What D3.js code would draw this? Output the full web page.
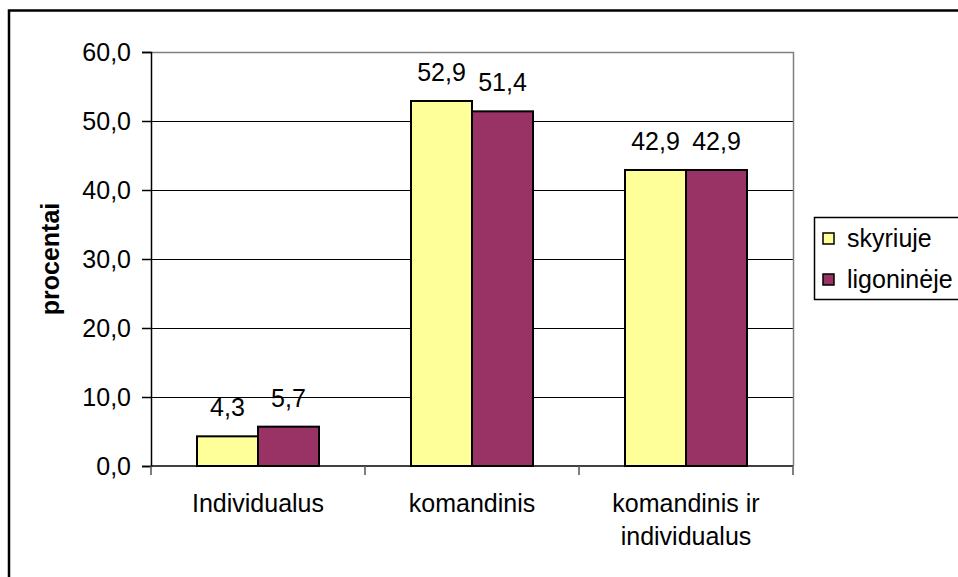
<!DOCTYPE html>
<html>
<head>
<meta charset="utf-8">
<script src="https://cdn.jsdelivr.net/npm/d3@7"></script>
<style>
  html, body { margin: 0; padding: 0; background: #fff; }
  svg { display: block; }
  text { font-family: "Liberation Sans", Arial, sans-serif; fill: #000; }
</style>
</head>
<body>
<svg id="chart" width="958" height="577"></svg>
<script>
// Work organisation: share of respondents (%) in the unit vs. the hospital
const categories = ["Individualus", "komandinis", "komandinis ir individualus"];
const seriesNames = ["skyriuje", "ligoninėje"];
const skyriuje = [4.3, 52.9, 42.9];
const ligonineje = [5.7, 51.4, 42.9];
const seriesColors = ["#FFFF99", "#993366"];
const yTicks = [0, 10, 20, 30, 40, 50, 60];
const yTitle = "procentai";

const seriesValues = [skyriuje, ligonineje];

const svg = d3.select("#chart");
const W = 958, H = 577;
const plot = { left: 151, top: 52, right: 793, bottom: 466 };
const fontSize = 25;

const ltLocale = d3.formatLocale({ decimal: ",", thousands: " ", grouping: [3], currency: ["", " €"] });
const fmt = ltLocale.format(".1f");

// outer chart frame
svg.append("rect")
  .attr("x", 9).attr("y", 10.5)
  .attr("width", W + 20).attr("height", H + 20)
  .attr("fill", "#fff").attr("stroke", "#000").attr("stroke-width", 2.5);

const x0 = d3.scaleBand().domain(categories).range([plot.left, plot.right]).padding(0);
const x1 = d3.scaleBand().domain(seriesNames).range([0, x0.bandwidth()])
  .paddingInner(0).paddingOuter(0.754);
const y = d3.scaleLinear().domain([0, 60]).range([plot.bottom, plot.top]);

// horizontal gridlines
svg.append("g").selectAll("line")
  .data(yTicks.filter(t => t > 0 && t < 60))
  .join("line")
  .attr("x1", plot.left).attr("x2", plot.right)
  .attr("y1", d => Math.round(y(d)) + 0.5).attr("y2", d => Math.round(y(d)) + 0.5)
  .attr("stroke", "#000").attr("stroke-width", 1);

// plot area border (top and right)
svg.append("path")
  .attr("d", `M${plot.left},${plot.top + 0.5}H${plot.right + 0.5}V${plot.bottom}`)
  .attr("fill", "none").attr("stroke", "#808080").attr("stroke-width", 1.5);

// bars
const groups = svg.append("g").selectAll("g")
  .data(categories)
  .join("g")
  .attr("transform", d => `translate(${x0(d)},0)`);

groups.selectAll("rect")
  .data((c, ci) => seriesNames.map((s, si) => ({ s, si, v: seriesValues[si][ci] })))
  .join("rect")
  .attr("x", d => x1(d.s))
  .attr("y", d => y(d.v))
  .attr("width", x1.bandwidth())
  .attr("height", d => y(0) - y(d.v))
  .attr("fill", d => seriesColors[d.si])
  .attr("stroke", "#000").attr("stroke-width", 2);

// value labels
groups.selectAll("text")
  .data((c, ci) => seriesNames.map((s, si) => ({ s, si, v: seriesValues[si][ci] })))
  .join("text")
  .attr("x", d => x1(d.s) + x1.bandwidth() / 2)
  .attr("y", d => y(d.v) - 20)
  .attr("text-anchor", "middle")
  .attr("font-size", fontSize)
  .text(d => fmt(d.v));

// y axis
const yAxis = svg.append("g")
  .attr("transform", `translate(${plot.left},0)`)
  .call(d3.axisLeft(y).tickValues(yTicks).tickFormat(fmt).tickSize(9).tickPadding(11));
yAxis.select(".domain").attr("stroke", "#000").attr("stroke-width", 1.5);
yAxis.selectAll(".tick line").attr("stroke", "#000").attr("stroke-width", 1.5);
yAxis.selectAll(".tick text")
  .attr("font-size", fontSize)
  .attr("font-family", "Liberation Sans, Arial, sans-serif")
  .attr("fill", "#000");

// x axis baseline and category separators
svg.append("line")
  .attr("x1", plot.left).attr("x2", plot.right)
  .attr("y1", plot.bottom).attr("y2", plot.bottom)
  .attr("stroke", "#000").attr("stroke-width", 1.5);
const sepX = categories.map(c => x0(c)).concat([plot.right]);
svg.append("g").selectAll("line")
  .data(sepX)
  .join("line")
  .attr("x1", d => d).attr("x2", d => d)
  .attr("y1", plot.bottom).attr("y2", plot.bottom + 9)
  .attr("stroke", "#555").attr("stroke-width", 1.5);

// category labels, wrapped to the category width
const catLabels = svg.append("g").selectAll("text")
  .data(categories)
  .join("text")
  .attr("x", d => x0(d) + x0.bandwidth() / 2)
  .attr("y", plot.bottom + 46)
  .attr("text-anchor", "middle")
  .attr("font-size", fontSize);

catLabels.each(function (d) {
  const t = d3.select(this);
  const cx = x0(d) + x0.bandwidth() / 2;
  const words = d.split(" ");
  const lines = [];
  let line = [];
  const probe = t.append("tspan");
  words.forEach(w => {
    const trial = line.concat([w]).join(" ");
    probe.text(trial);
    if (line.length && probe.node().getComputedTextLength() > x0.bandwidth() - 20) {
      lines.push(line.join(" "));
      line = [w];
    } else {
      line.push(w);
    }
  });
  lines.push(line.join(" "));
  probe.remove();
  lines.forEach((l, i) => {
    t.append("tspan").attr("x", cx).attr("dy", i === 0 ? 0 : 33).text(l);
  });
});

// y axis title
svg.append("text")
  .attr("transform", `translate(59,${(plot.top + plot.bottom) / 2}) rotate(-90)`)
  .attr("text-anchor", "middle")
  .attr("font-size", fontSize)
  .attr("font-weight", "bold")
  .text(yTitle);

// legend
const legend = svg.append("g");
legend.append("rect")
  .attr("x", 814.5).attr("y", 217.5)
  .attr("width", 200).attr("height", 82)
  .attr("fill", "#fff").attr("stroke", "#000").attr("stroke-width", 1.5);
seriesNames.forEach((s, i) => {
  const yy = 233 + i * 41;
  legend.append("rect")
    .attr("x", 823).attr("y", yy)
    .attr("width", 11).attr("height", 11)
    .attr("fill", seriesColors[i]).attr("stroke", "#000").attr("stroke-width", 1.5);
  legend.append("text")
    .attr("x", 847).attr("y", yy + 14)
    .attr("font-size", fontSize)
    .text(s);
});
</script>
</body>
</html>
